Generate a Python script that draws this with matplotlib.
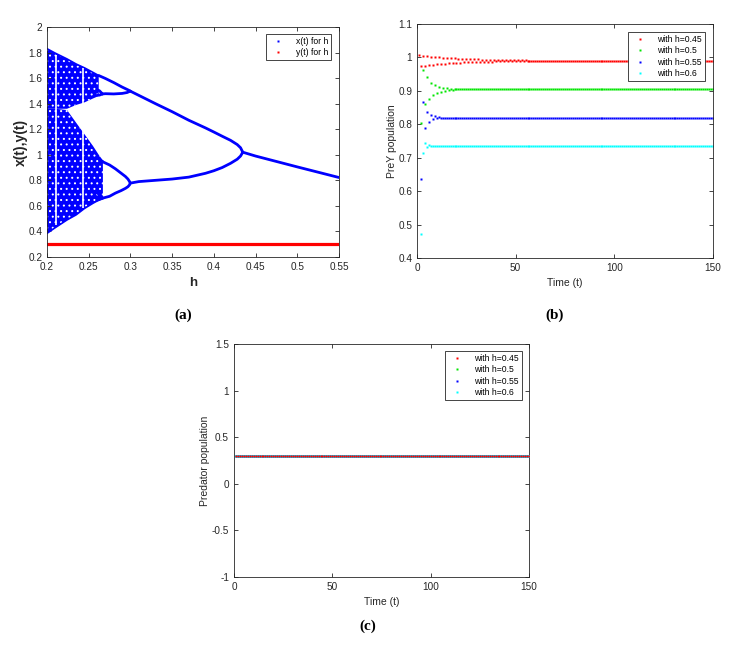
import matplotlib
matplotlib.use("Agg")
import matplotlib.pyplot as plt
from matplotlib.lines import Line2D

plt.rcParams["font.family"] = ["Liberation Sans", "DejaVu Sans"]
plt.rcParams["hatch.linewidth"] = 0.7

# ---- panel (a): bifurcation diagram ----
# chaotic bands (envelopes)
band_h = [0.2, 0.21, 0.224, 0.235, 0.245, 0.255, 0.262]
upper_band_top = [1.83, 1.795, 1.75, 1.71, 1.68, 1.645, 1.62]
upper_band_bot = [1.36, 1.36, 1.36, 1.39, 1.41, 1.44, 1.46]
low_band_h = [0.2, 0.21, 0.224, 0.235, 0.245, 0.255, 0.262, 0.267]
low_band_top = [1.36, 1.36, 1.35, 1.25, 1.16, 1.07, 1.0, 0.955]
low_band_bot = [0.385, 0.43, 0.49, 0.53, 0.58, 0.62, 0.645, 0.665]

# periodic windows inside the chaos (white gaps)
window_h = [0.2105, 0.2432]
window_lo = [0.45, 0.58]
window_hi = [1.78, 1.68]

# period-8 loops
p8_h = [0.260, 0.263, 0.2665]
p8_a_up = [1.51, 1.50, 1.476]
p8_a_dn = [1.466, 1.467, 1.476]
p8_b_up = [0.975, 0.965, 0.946]
p8_b_dn = [0.925, 0.93, 0.946]
p8_c_up = [0.70, 0.69, 0.66]
p8_c_dn = [0.645, 0.65, 0.66]

# period-4 branches
p4_a_h = [0.262, 0.27, 0.28, 0.29, 0.298, 0.2998]
p4_a_up = [1.62, 1.597, 1.565, 1.53, 1.505, 1.498]
p4_a_dn_h = [0.2665, 0.27, 0.28, 0.29, 0.296, 0.2998]
p4_a_dn = [1.476, 1.478, 1.476, 1.48, 1.487, 1.498]
p4_b_h = [0.2665, 0.275, 0.282, 0.289, 0.294, 0.297, 0.299, 0.2998]
p4_b_up = [0.946, 0.92, 0.89, 0.855, 0.83, 0.81, 0.79, 0.778]
p4_b_dn = [0.66, 0.675, 0.70, 0.72, 0.737, 0.75, 0.765, 0.778]

# period-2 branches
p2_h = [0.2998, 0.31, 0.33, 0.35, 0.37, 0.39, 0.40, 0.41, 0.42, 0.428, 0.432, 0.4347]
p2_up = [1.498, 1.465, 1.40, 1.337, 1.27, 1.21, 1.178, 1.145, 1.113, 1.08, 1.055, 1.02]
p2_dn = [0.778, 0.79, 0.80, 0.81, 0.825, 0.855, 0.875, 0.90, 0.933, 0.965, 0.99, 1.02]

# period-1 branch
p1_h = [0.4347, 0.45, 0.5, 0.55]
p1_x = [1.02, 0.99, 0.905, 0.822]

# y(t) for h
yh_h = [0.2, 0.55]
yh_y = [0.3, 0.3]

# ---- panels (b) and (c): time series ----
t_steps = list(range(1, 151))
labels_h = ["with h=0.45", "with h=0.5", "with h=0.55", "with h=0.6"]
colors = ["#ff0000", "#00e600", "#0000ff", "#00ffff"]

red_start = [1.007, 0.974, 1.005, 0.975, 1.004, 0.977, 1.002, 0.978, 1.001, 0.979,
             1.000, 0.980, 0.999, 0.981, 0.998, 0.982, 0.997, 0.983, 0.997, 0.984,
             0.996, 0.984, 0.995, 0.985, 0.995, 0.985, 0.994, 0.986, 0.994, 0.986,
             0.994, 0.987, 0.993, 0.987, 0.993, 0.987, 0.993, 0.987, 0.992, 0.988,
             0.992, 0.988, 0.992, 0.988, 0.992, 0.988, 0.991, 0.989, 0.991, 0.989,
             0.991, 0.989, 0.991, 0.989, 0.991, 0.989]
green_start = [None, 0.804, 0.962, 0.860, 0.940, 0.875, 0.925, 0.888, 0.917, 0.895,
               0.913, 0.898, 0.909, 0.901, 0.908, 0.903, 0.906, 0.904]
blue_start = [None, 0.637, 0.866, 0.788, 0.838, 0.808, 0.828, 0.815, 0.824, 0.818, 0.822]
cyan_start = [None, 0.471, 0.715, 0.745, 0.731, 0.737, 0.734]
prey_steady = [0.990, 0.905, 0.820, 0.735]
pred_steady = [0.3, 0.3, 0.3, 0.3]

prey = []
for start, steady in zip([red_start, green_start, blue_start, cyan_start], prey_steady):
    vals = [float("nan") if v is None else v for v in start]
    prey.append(vals + [steady] * (len(t_steps) - len(vals)))
pred = [[v] * len(t_steps) for v in pred_steady]


def matlab_axes(ax):
    ax.tick_params(direction="in", top=True, right=True, labelsize=7.2,
                   colors="#262626", length=3, width=0.6)
    for s in ax.spines.values():
        s.set_linewidth(0.6)
        s.set_color("#262626")


def box_legend(ax, anchor, handles=None, labels=None):
    kw = dict(loc="upper right", bbox_to_anchor=anchor, borderaxespad=0,
              fontsize=6.2, fancybox=False, edgecolor="#262626", framealpha=1,
              handlelength=2.2, handletextpad=0.9, labelspacing=0.28,
              borderpad=0.35)
    if handles is None:
        leg = ax.legend(**kw)
    else:
        leg = ax.legend(handles, labels, **kw)
    leg.get_frame().set_linewidth(0.6)
    return leg


fig = plt.figure(figsize=(7.39, 6.47), dpi=100)
ax_a = fig.add_axes([0.0636, 0.6028, 0.3951, 0.3555])
ax_b = fig.add_axes([0.5643, 0.6012, 0.4005, 0.3617])
ax_c = fig.add_axes([0.3166, 0.1082, 0.3992, 0.3601])

# (a)
blue = "#0000ff"
ax_a.fill_between(band_h, upper_band_bot, upper_band_top, facecolor=blue,
                  edgecolor="white", hatch="...", linewidth=0)
ax_a.fill_between(low_band_h, low_band_bot, low_band_top, facecolor=blue,
                  edgecolor="white", hatch="...", linewidth=0)
ax_a.plot(band_h, upper_band_top, color=blue, lw=1.2)
ax_a.plot(low_band_h, low_band_bot, color=blue, lw=1.2)
ax_a.vlines(window_h, window_lo, window_hi, colors="white", lw=1.2)
lw_b = 2.0
for hh, xs in [(p8_h, p8_a_up), (p8_h, p8_a_dn), (p8_h, p8_b_up), (p8_h, p8_b_dn),
               (p8_h, p8_c_up), (p8_h, p8_c_dn), (p4_a_h, p4_a_up),
               (p4_a_dn_h, p4_a_dn), (p4_b_h, p4_b_up), (p4_b_h, p4_b_dn),
               (p2_h, p2_up), (p2_h, p2_dn), (p1_h, p1_x)]:
    ax_a.plot(hh, xs, color=blue, lw=lw_b, solid_capstyle="round")
ax_a.plot(yh_h, yh_y, color="#ff0000", lw=2.3)
ax_a.set_xlim(0.2, 0.55)
ax_a.set_ylim(0.2, 2.0)
ax_a.set_xticks([0.2, 0.25, 0.3, 0.35, 0.4, 0.45, 0.5, 0.55])
ax_a.set_xticklabels(["0.2", "0.25", "0.3", "0.35", "0.4", "0.45", "0.5", "0.55"])
ax_a.set_yticks([0.2, 0.4, 0.6, 0.8, 1.0, 1.2, 1.4, 1.6, 1.8, 2.0])
ax_a.set_yticklabels(["0.2", "0.4", "0.6", "0.8", "1", "1.2", "1.4", "1.6", "1.8", "2"])
ax_a.set_xlabel("h", fontsize=9.5, fontweight="bold", color="#262626")
ax_a.set_ylabel("x(t),y(t)", fontsize=10, fontweight="bold", color="#262626",
                labelpad=0.5)
matlab_axes(ax_a)
h_a = [Line2D([], [], ls="none", marker="s", ms=1.8, mec="none", mfc=blue),
       Line2D([], [], ls="none", marker="s", ms=1.8, mec="none", mfc="#ff0000")]
box_legend(ax_a, (0.973, 0.97), h_a, ["x(t) for h", "y(t) for h"])

# (b)
for vals, c, lab in zip(prey, colors, labels_h):
    ax_b.plot(t_steps, vals, ls="none", marker="s", ms=1.7, mec="none", mfc=c, label=lab)
ax_b.set_xlim(0, 150)
ax_b.set_ylim(0.4, 1.1)
ax_b.set_xticks([0, 50, 100, 150])
ax_b.set_yticks([0.4, 0.5, 0.6, 0.7, 0.8, 0.9, 1.0, 1.1])
ax_b.set_yticklabels(["0.4", "0.5", "0.6", "0.7", "0.8", "0.9", "1", "1.1"])
ax_b.set_xlabel("Time (t)", fontsize=7.5, color="#262626")
ax_b.set_ylabel("PreY population", fontsize=7.5, color="#262626", labelpad=1)
matlab_axes(ax_b)
box_legend(ax_b, (0.973, 0.966))

# (c): red on top, the others just around it
pred_ms = [1.5, 2.0, 2.0, 2.0]
pred_z = [6, 3, 4, 5]
for vals, c, lab, ms, z in zip(pred, colors, labels_h, pred_ms, pred_z):
    ax_c.plot(t_steps, vals, ls="none", marker="o", ms=ms, mec="none", mfc=c,
              label=lab, zorder=z, alpha=1.0 if z == 6 else 0.8)
ax_c.set_xlim(0, 150)
ax_c.set_ylim(-1, 1.5)
ax_c.set_xticks([0, 50, 100, 150])
ax_c.set_yticks([-1, -0.5, 0, 0.5, 1, 1.5])
ax_c.set_yticklabels(["-1", "-0.5", "0", "0.5", "1", "1.5"])
ax_c.set_xlabel("Time (t)", fontsize=7.5, color="#262626")
ax_c.set_ylabel("Predator population", fontsize=7.5, color="#262626", labelpad=1)
matlab_axes(ax_c)
leg = box_legend(ax_c, (0.976, 0.97))
for hnd in leg.legend_handles:
    hnd.set_markersize(1.8)
    hnd.set_marker("s")
    hnd.set_alpha(1.0)

# panel letters
for x, y, s in [(0.2476, 0.5131, "(a)"), (0.751, 0.5131, "(b)"), (0.498, 0.0325, "(c)")]:
    fig.text(x, y, s, ha="center", va="center", fontsize=11, fontweight="bold",
             family=["Liberation Serif", "DejaVu Serif"])

fig.savefig("out.png", dpi=100)
